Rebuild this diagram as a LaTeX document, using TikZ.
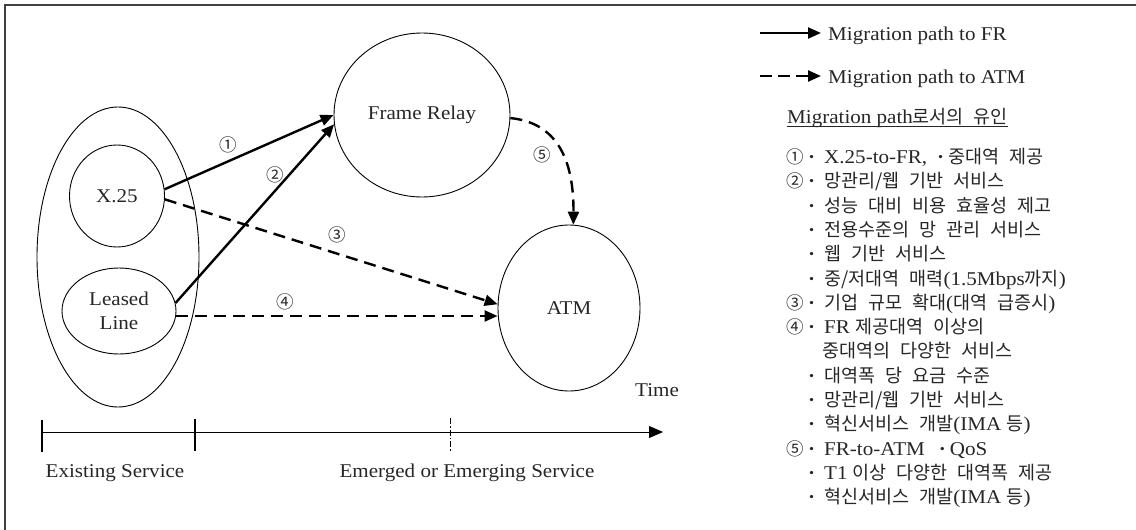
\documentclass[tikz,border=0pt]{standalone}
\usepackage{fontspec}
\setmainfont{Liberation Serif}[FakeStretch=1.08]
\newfontfamily\krfont{Noto Sans CJK KR}[WordSpace=2.4]
\usetikzlibrary{shapes.geometric,arrows.meta}
\definecolor{txt}{gray}{0.15}
\newcommand\K[1]{{\krfont\fontsize{18.5}{20}\selectfont #1}}
\newcommand\KN[1]{{\krfont\fontsize{17.5}{20}\selectfont #1}}
\newcommand\D{\textbf{·}}
\begin{document}
\begin{tikzpicture}[x=1pt,y=-1pt,
  every node/.style={font=\fontsize{19.5}{24}\selectfont, text=txt},
  ell/.style={ellipse, draw, line width=0.9pt, inner sep=0pt, align=center},
  frpath/.style={line width=2.4pt, -{Triangle[length=13pt,width=11pt]}},
  atmpath/.style={frpath, dash pattern=on 12pt off 7pt},
  lg/.style={anchor=base west, inner sep=0pt},
  num/.style={inner sep=0pt}]
\useasboundingbox (0,0) rectangle (1136,530);
% frame (top and left edges visible)
\draw[line width=1.6pt, black!75] (1136,5) -- (5,5) -- (5,530);

% ellipses
\node[ell, minimum width=162pt, minimum height=300pt] (outer) at (118,257) {};
\node[ell, minimum width=95pt, minimum height=102pt] (x25) at (117,196) {X.25};
\node[ell, minimum width=114pt, minimum height=86pt] (leased) at (119,311) {Leased\\Line};
\node[ell, minimum width=176pt, minimum height=164pt] (fr) at (422,115) {Frame Relay};
\node[ell, minimum width=142pt, minimum height=166pt] (atm) at (569,308) {ATM};

% migration arrows
\draw[frpath] (x25.8) -- (fr.180);
\draw[frpath] (leased.8) -- (fr.186);
\draw[atmpath] (x25.-4) -- (atm.177);
\draw[atmpath] (leased.-5) -- (leased.-5 -| atm.west);
\draw[atmpath] (fr.-2) .. controls (550,122) and (574,150) .. (atm.87);

% path numbers
\node[num] (n1) at (228,145) {\KN{①}};
\node[num] (n2) at (275,175) {\KN{②}};
\node[num] (n3) at (337,235) {\KN{③}};
\node[num] (n4) at (285,302) {\KN{④}};
\node[num] (n5) at (542,155) {\KN{⑤}};

% time axis
\coordinate (t0) at (42,432);
\coordinate (t1) at (195,432);
\coordinate (t2) at (450,432);
\coordinate (tend) at (663,432);
\draw[line width=0.9pt, -{Triangle[length=14pt,width=12pt]}] (t0) -- (tend);
\draw[line width=1.1pt] ([yshift=12pt]t0) -- ([yshift=-20pt]t0);
\draw[line width=1.1pt] ([yshift=13pt]t1) -- ([yshift=-19pt]t1);
\draw[line width=0.8pt, dash pattern=on 6pt off 2pt on 1.5pt off 2pt] ([yshift=14pt]t2) -- ([yshift=-20pt]t2);
\node (time) at (657,390) {Time};
\node (exist) at (115,473) {Existing Service};
\node (emerg) at (467,473) {Emerged or Emerging Service};

% legend
\coordinate (la0) at (760,33); \coordinate (la1) at (821,33);
\draw[frpath] (la0) -- (la1);
\node[lg] (lfr) at (828,40) {Migration path to FR};
\coordinate (lb0) at (760,76); \coordinate (lb1) at (821,76);
\draw[frpath, dash pattern=on 12pt off 6pt] (lb0) -- (lb1);
\node[lg] (latm) at (828,83) {Migration path to ATM};

\node[lg] (title) at (787,123) {Migration path\K{로서의 유인}};
\draw[line width=0.8pt, txt] ([yshift=-3pt]title.base west) -- ([yshift=-3pt]title.base east);

\node[lg] (m1) at (786,163.5) {\KN{①}};
\node[lg] (b1) at (808,163.5) {\D\hspace{9pt}X.25-to-FR,\hspace{10pt}\D\hspace{4pt}\K{중대역 제공}};
\node[lg] (m2) at (786,187.8) {\KN{②}};
\node[lg] (b2) at (808,187.8) {\D\hspace{9pt}\K{망관리/웹 기반 서비스}};
\node[lg] (b3) at (808,212.1) {\D\hspace{9pt}\K{성능 대비 비용 효율성 제고}};
\node[lg] (b4) at (808,236.4) {\D\hspace{9pt}\K{전용수준의 망 관리 서비스}};
\node[lg] (b5) at (808,260.7) {\D\hspace{9pt}\K{웹 기반 서비스}};
\node[lg] (b6) at (808,285.0) {\D\hspace{9pt}\K{중/저대역 매력}(1.5Mbps\K{까지})};
\node[lg] (m3) at (786,309.3) {\KN{③}};
\node[lg] (b7) at (808,309.3) {\D\hspace{9pt}\K{기업 규모 확대}(\K{대역 급증시})};
\node[lg] (m4) at (786,333.6) {\KN{④}};
\node[lg] (b8) at (808,333.6) {\D\hspace{9pt}FR \K{제공대역 이상의}};
\node[lg] (b9) at (822,357.9) {\K{중대역의 다양한 서비스}};
\node[lg] (b10) at (808,382.2) {\D\hspace{9pt}\K{대역폭 당 요금 수준}};
\node[lg] (b11) at (808,406.5) {\D\hspace{9pt}\K{망관리/웹 기반 서비스}};
\node[lg] (b12) at (808,430.8) {\D\hspace{9pt}\K{혁신서비스 개발}(IMA \K{등})};
\node[lg] (m5) at (786,455.1) {\KN{⑤}};
\node[lg] (b13) at (808,455.1) {\D\hspace{9pt}FR-to-ATM\hspace{14pt}\D\hspace{4pt}QoS};
\node[lg] (b14) at (808,479.4) {\D\hspace{9pt}T1 \K{이상 다양한 대역폭 제공}};
\node[lg] (b15) at (808,503.7) {\D\hspace{9pt}\K{혁신서비스 개발}(IMA \K{등})};
\end{tikzpicture}
\end{document}
